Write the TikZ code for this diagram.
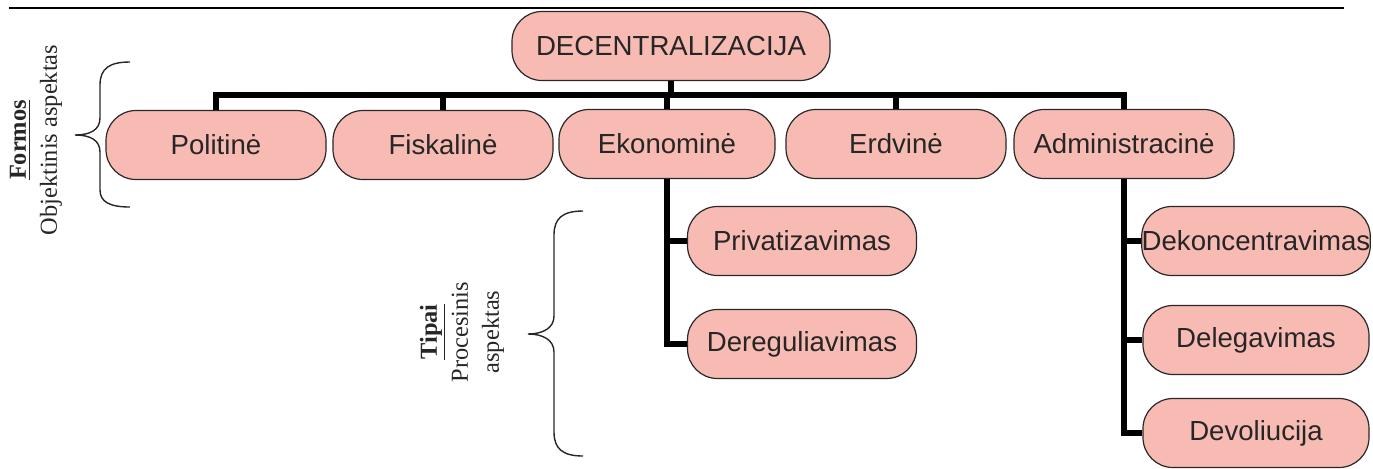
\documentclass[tikz,border=0pt]{standalone}
\usepackage{fontspec}
\setmainfont{Liberation Serif}
\setsansfont{Liberation Sans}
\usepackage{tikz}
\definecolor{boxpink}{RGB}{248,187,180}
\definecolor{boxline}{RGB}{40,40,40}

\begin{document}
\begin{tikzpicture}[
		x=0.5pt, y=-0.5pt,
		box/.style={rectangle, rounded corners=15pt, draw=boxline, line width=0.6pt,
			fill=boxpink, text=black!85, minimum width=110pt, minimum height=34.5pt,
			inner sep=0pt, font=\sffamily\fontsize{13.8}{16}\selectfont},
		wire/.style={line width=3pt},
		curly/.style={line width=0.7pt, draw=black!85},
		aspect/.style={rotate=90, align=center, text=black!85,
			font=\fontsize{12.2}{15.5}\selectfont}]
		\useasboundingbox (0,0) rectangle (1373,468);
		\draw[line width=0.8pt] (9,8) -- (1344,8);

		\node[box, minimum width=159pt] (dec) at (671,46) {DECENTRALIZACIJA};
		\node[box] (pol) at (216,145) {Politinė};
		\node[box] (fis) at (443,145) {Fiskalinė};
		\node[box, minimum width=108pt] (eko) at (667,144) {Ekonominė};
		\node[box] (erd) at (896,144) {Erdvinė};
		\node[box] (adm) at (1124,144) {Administracinė};

		\node[box, minimum width=114.5pt] (priv) at (802,241) {Privatizavimas};
		\node[box, minimum width=114.5pt] (dereg) at (802,344) {Dereguliavimas};
		\node[box, minimum width=113pt] (dekon) at (1256,241) {Dekoncentravimas};
		\node[box, minimum width=113pt] (deleg) at (1256,340) {Delegavimas};
		\node[box, minimum width=113pt] (devol) at (1256,433) {Devoliucija};

		\coordinate (bus) at (671,95);

		\draw[wire] (dec) -- (bus) -| (pol);
		\draw[wire] (bus) -| (fis);
		\draw[wire] (bus) -| (eko);
		\draw[wire] (bus) -| (erd);
		\draw[wire] (bus) -| (adm);

		\draw[wire] (eko) |- (priv);
		\draw[wire] (eko) |- (dereg);
		\draw[wire] (adm) |- (dekon);
		\draw[wire] (adm) |- (deleg);
		\draw[wire] (adm) |- (devol);

		% braces
		\draw[curly] (130,62) .. controls (110,62) and (100,68) .. (100,85) -- (100,118)
			.. controls (100,130) and (90,135) .. (75,135)
			.. controls (90,135) and (100,140) .. (100,152) -- (100,190)
			.. controls (100,202) and (110,207) .. (130,207);
		\draw[curly] (583,211) .. controls (563,211) and (554,218) .. (554,235) -- (554,316)
			.. controls (554,328) and (543,334) .. (528,334)
			.. controls (543,334) and (554,340) .. (554,352) -- (554,432)
			.. controls (554,449) and (563,456) .. (583,456);

		\node[aspect] (formos) at (36,140) {\textbf{\underline{Formos}}\\Objektinis aspektas};
		\node[aspect] (tipai) at (462,332) {\textbf{\underline{Tipai}}\\Procesinis\\aspektas};
\end{tikzpicture}
\end{document}
